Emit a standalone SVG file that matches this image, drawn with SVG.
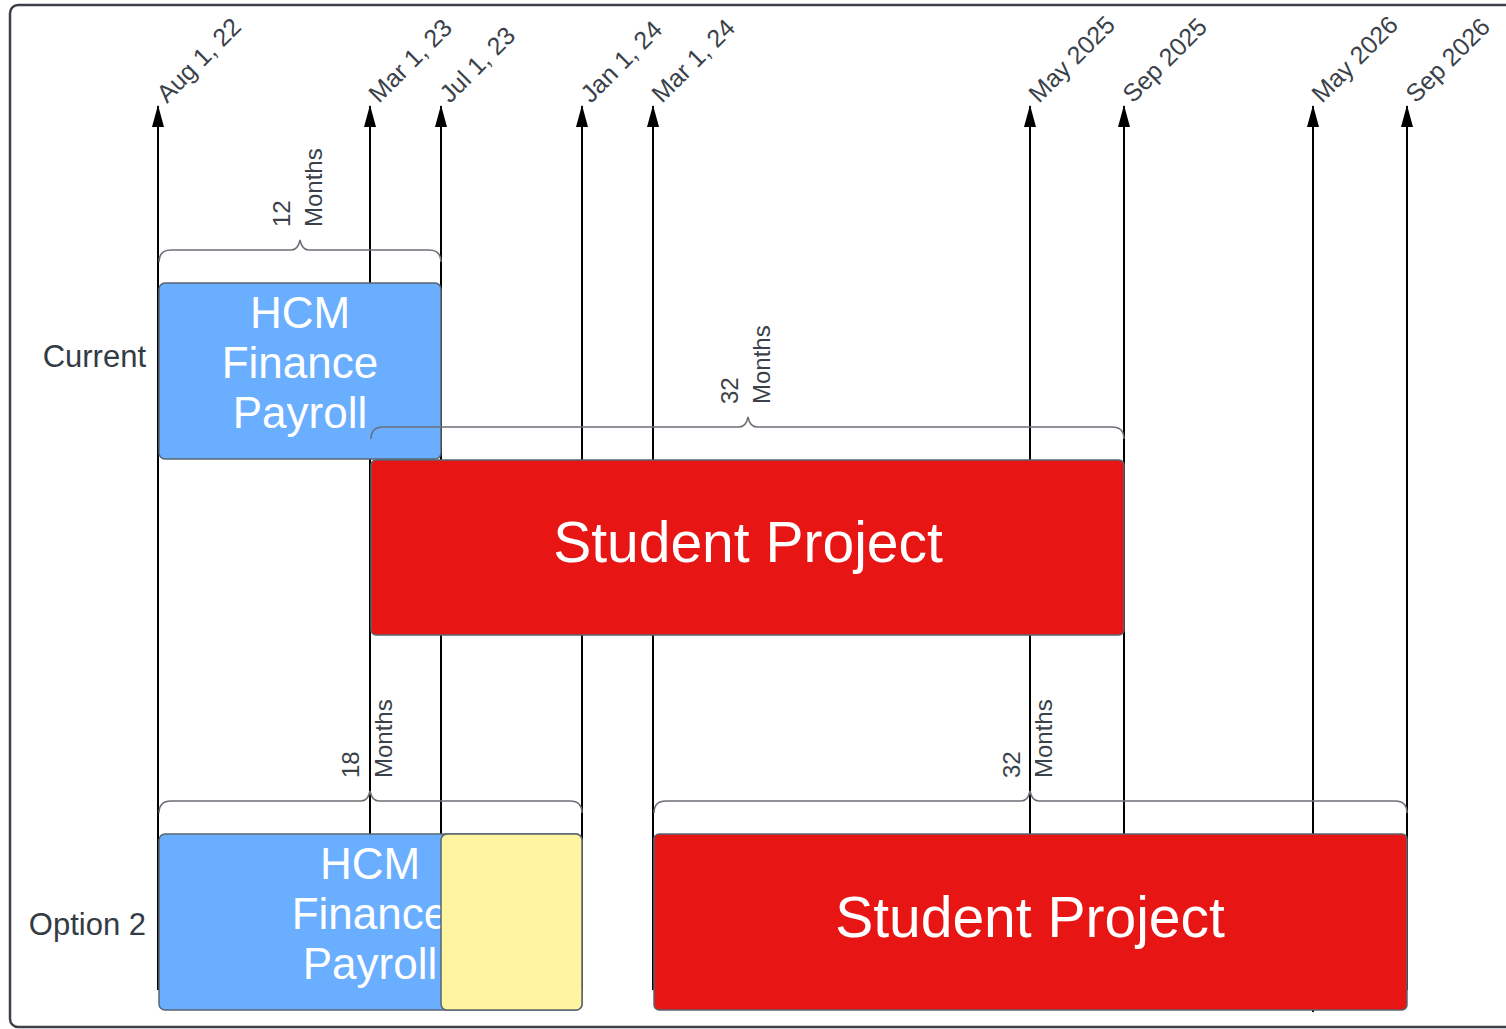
<svg xmlns="http://www.w3.org/2000/svg" width="1506" height="1029" viewBox="0 0 1506 1029">
<defs>
<marker id="arr" markerWidth="12" markerHeight="22" refX="6" refY="1" orient="0" markerUnits="userSpaceOnUse">
<path d="M6 0 L12 22 L0 22 Z" fill="#000"/>
</marker>
<style>
.vl{stroke:#000;stroke-width:2;fill:none}
.date{font-family:"Liberation Sans",Arial,sans-serif;font-size:25px;fill:#3a414a}
.lab{font-family:"Liberation Sans",Arial,sans-serif;font-size:31px;fill:#333b45}
.br{stroke:#6b6f75;stroke-width:1.5;fill:none}
.dur{font-family:"Liberation Sans",Arial,sans-serif;font-size:24px;fill:#3a414a}
.blue{fill:#6aaeff;stroke:#5a6470;stroke-width:1.5}
.red{fill:#e81515;stroke:#5a6470;stroke-width:1.5}
.yel{fill:#fff5a0;stroke:#5a6470;stroke-width:1.5}
.bt{font-family:"Liberation Sans",Arial,sans-serif;font-size:44px;fill:#fff;text-anchor:middle}
.rt{font-family:"Liberation Sans",Arial,sans-serif;font-size:57px;fill:#fff;text-anchor:middle}
</style>
</defs>
<rect x="10" y="5" width="1520" height="1022" rx="8" fill="#fff" stroke="#3a414a" stroke-width="2.5"/>
<g id="connectors">
<line class="vl" x1="158" y1="990" x2="158" y2="106" marker-end="url(#arr)"/>
<line class="vl" x1="370" y1="990" x2="370" y2="106" marker-end="url(#arr)"/>
<line class="vl" x1="441" y1="990" x2="441" y2="106" marker-end="url(#arr)"/>
<line class="vl" x1="582" y1="990" x2="582" y2="106" marker-end="url(#arr)"/>
<line class="vl" x1="653" y1="990" x2="653" y2="106" marker-end="url(#arr)"/>
<line class="vl" x1="1030" y1="990" x2="1030" y2="106" marker-end="url(#arr)"/>
<line class="vl" x1="1124" y1="990" x2="1124" y2="106" marker-end="url(#arr)"/>
<line class="vl" x1="1313" y1="1012" x2="1313" y2="106" marker-end="url(#arr)"/>
<line class="vl" x1="1407" y1="990" x2="1407" y2="106" marker-end="url(#arr)"/>
</g>
<g id="dates">
<text class="date" transform="translate(167,104) rotate(-45)">Aug 1, 22</text>
<text class="date" transform="translate(379,104) rotate(-45)">Mar 1, 23</text>
<text class="date" transform="translate(450,104) rotate(-45)">Jul 1, 23</text>
<text class="date" transform="translate(591,104) rotate(-45)">Jan 1, 24</text>
<text class="date" transform="translate(662,104) rotate(-45)">Mar 1, 24</text>
<text class="date" transform="translate(1039,104) rotate(-45)">May 2025</text>
<text class="date" transform="translate(1133,104) rotate(-45)">Sep 2025</text>
<text class="date" transform="translate(1322,104) rotate(-45)">May 2026</text>
<text class="date" transform="translate(1416,104) rotate(-45)">Sep 2026</text>
</g>
<g id="row-labels">
<text class="lab" x="146" y="367" text-anchor="end">Current</text>
<text class="lab" x="146" y="935" text-anchor="end">Option 2</text>
</g>
<g id="brace-12">
<path class="br" d="M159 262 Q159 250 171 250 L291 250 Q298 250 300 240 Q302 250 309 250 L429 250 Q441 250 441 262"/>
<text class="dur" transform="translate(290,227) rotate(-90)">12</text>
<text class="dur" transform="translate(322,227) rotate(-90)">Months</text>
</g>
<g id="current-hcm">
<rect class="blue" x="159" y="283" width="282" height="176" rx="6"/>
<text class="bt" x="300" y="328">HCM</text>
<text class="bt" x="300" y="378">Finance</text>
<text class="bt" x="300" y="428">Payroll</text>
</g>
<g id="brace-32a">
<path class="br" d="M371 439 Q371 427 383 427 L739 427 Q746 427 748 417 Q750 427 757 427 L1112 427 Q1124 427 1124 439"/>
<text class="dur" transform="translate(738,404) rotate(-90)">32</text>
<text class="dur" transform="translate(770,404) rotate(-90)">Months</text>
</g>
<g id="current-student">
<rect class="red" x="371" y="460" width="753" height="175" rx="5"/>
<text class="rt" x="748" y="562">Student Project</text>
</g>
<g id="brace-18">
<path class="br" d="M159 813 Q159 801 171 801 L361 801 Q368 801 370 791 Q372 801 379 801 L570 801 Q582 801 582 813"/>
<text class="dur" transform="translate(359,778) rotate(-90)">18</text>
<text class="dur" transform="translate(392,778) rotate(-90)">Months</text>
</g>
<g id="brace-32b">
<path class="br" d="M654 813 Q654 801 666 801 L1021 801 Q1028 801 1030 791 Q1032 801 1039 801 L1395 801 Q1407 801 1407 813"/>
<text class="dur" transform="translate(1020,778) rotate(-90)">32</text>
<text class="dur" transform="translate(1052,778) rotate(-90)">Months</text>
</g>
<g id="option2-hcm">
<rect class="blue" x="159" y="834" width="423" height="176" rx="6"/>
<text class="bt" x="370" y="879">HCM</text>
<text class="bt" x="370" y="929">Finance</text>
<text class="bt" x="370" y="979">Payroll</text>
</g>
<g id="option2-gap">
<rect class="yel" x="441" y="834" width="141" height="176" rx="6"/>
</g>
<g id="option2-student">
<rect class="red" x="654" y="834" width="753" height="176" rx="5"/>
<text class="rt" x="1030" y="937">Student Project</text>
</g>
</svg>
